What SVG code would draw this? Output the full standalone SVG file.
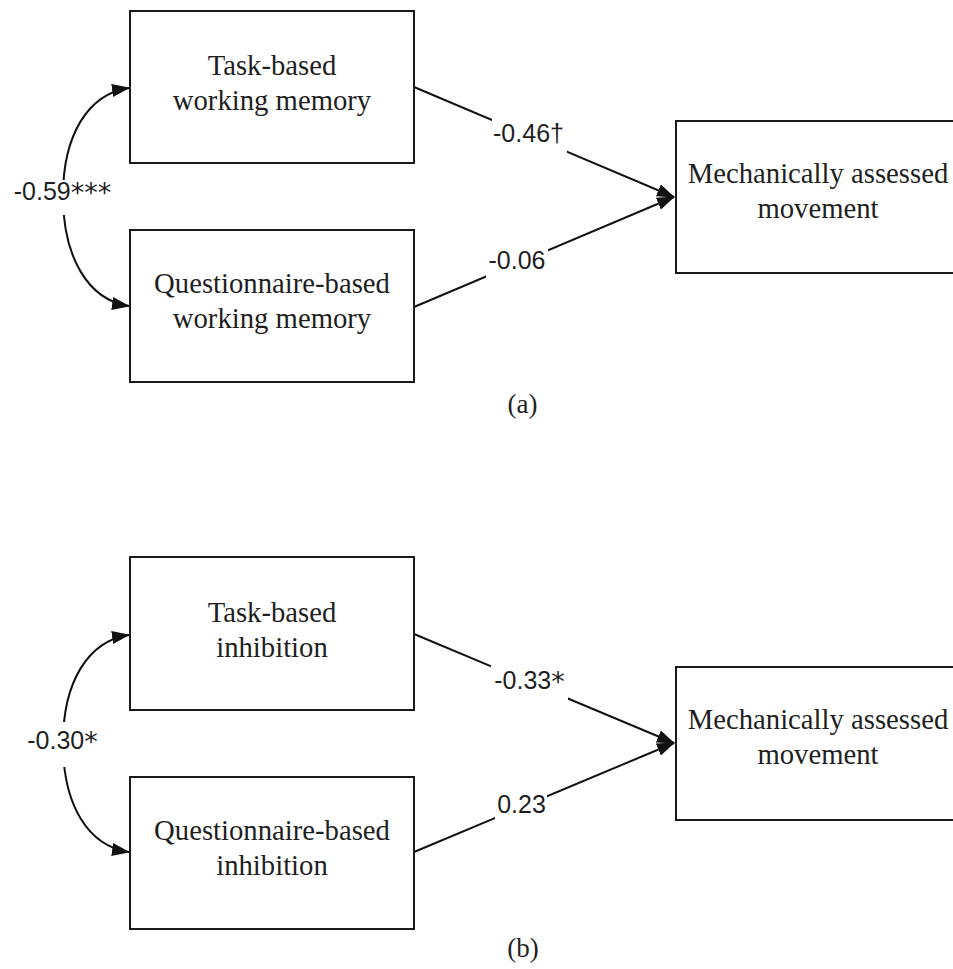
<svg xmlns="http://www.w3.org/2000/svg" width="953" height="969" viewBox="0 0 953 969">
  <style>
    .box { fill: #ffffff; stroke: #1a1a1a; stroke-width: 2; }
    .node-text { font-family: "Liberation Serif", "Times New Roman", serif; font-size: 28.7px; fill: #1f1f1f; text-anchor: middle; }
    .edge { fill: none; stroke: #111111; stroke-width: 2; }
    .edge-bg { fill: #ffffff; }
    .edge-text { font-family: "Liberation Sans", Arial, sans-serif; font-size: 25px; fill: #1f1f1f; text-anchor: middle; }
    .star { font-family: "DejaVu Sans", sans-serif; font-size: 27px; }
    .caption { font-family: "Liberation Serif", "Times New Roman", serif; font-size: 27px; fill: #1f1f1f; text-anchor: middle; }
  </style>
  <defs>
    <marker id="head" viewBox="0 0 18 13" refX="17" refY="6.5" markerWidth="18" markerHeight="13" markerUnits="userSpaceOnUse" orient="auto-start-reverse">
      <path d="M0,0 L18,6.5 L0,13 Z" fill="#111111"/>
    </marker>
  </defs>
  <rect width="953" height="969" fill="#ffffff"/>

  <!-- connectors -->
  <g id="connectors">
    <!-- panel a -->
    <path class="edge" d="M414,87 L674,197" marker-end="url(#head)"/>
    <path class="edge" d="M414,307 L674,197" marker-end="url(#head)"/>
    <path class="edge" d="M129,88 C88,94 63,135 63,196 C63,257 88,300 129,306" marker-start="url(#head)" marker-end="url(#head)"/>
    <!-- panel b -->
    <path class="edge" d="M414,634 L674,743" marker-end="url(#head)"/>
    <path class="edge" d="M414,852 L674,743" marker-end="url(#head)"/>
    <path class="edge" d="M129,635 C88,641 63,682 63,743 C63,805 88,846 129,852" marker-start="url(#head)" marker-end="url(#head)"/>

    <!-- coefficient labels -->
    <rect class="edge-bg" x="492" y="117" width="75" height="37"/>
    <text class="edge-text" x="528.5" y="142">-0.46†</text>
    <rect class="edge-bg" x="486" y="247" width="62" height="32"/>
    <text class="edge-text" x="517" y="269">-0.06</text>
    <rect class="edge-bg" x="6" y="180" width="114" height="35"/>
    <text class="edge-text" x="62.5" y="200">-0.59<tspan class="star" dy="2">***</tspan></text>

    <rect class="edge-bg" x="491" y="664" width="77" height="37"/>
    <text class="edge-text" x="529.5" y="689">-0.33<tspan class="star" dy="2">*</tspan></text>
    <rect class="edge-bg" x="495" y="794" width="52" height="28"/>
    <text class="edge-text" x="521.5" y="813">0.23</text>
    <rect class="edge-bg" x="20" y="722" width="86" height="45"/>
    <text class="edge-text" x="62.5" y="749">-0.30<tspan class="star" dy="2">*</tspan></text>
  </g>

  <!-- panel a nodes -->
  <g id="task-wm">
    <rect class="box" x="130" y="11" width="284" height="152"/>
    <text class="node-text" x="272" y="75">Task-based</text>
    <text class="node-text" x="272" y="110">working memory</text>
  </g>
  <g id="quest-wm">
    <rect class="box" x="130" y="230" width="284" height="152"/>
    <text class="node-text" x="272" y="293">Questionnaire-based</text>
    <text class="node-text" x="272" y="328">working memory</text>
  </g>
  <g id="movement-a">
    <rect class="box" x="676" y="121" width="290" height="152"/>
    <text class="node-text" x="818" y="183">Mechanically assessed</text>
    <text class="node-text" x="818" y="218">movement</text>
  </g>
  <text class="caption" x="522.5" y="413">(a)</text>

  <!-- panel b nodes -->
  <g id="task-inh">
    <rect class="box" x="130" y="557" width="284" height="153"/>
    <text class="node-text" x="272" y="622">Task-based</text>
    <text class="node-text" x="272" y="657">inhibition</text>
  </g>
  <g id="quest-inh">
    <rect class="box" x="130" y="777" width="284" height="152"/>
    <text class="node-text" x="272" y="840">Questionnaire-based</text>
    <text class="node-text" x="272" y="875">inhibition</text>
  </g>
  <g id="movement-b">
    <rect class="box" x="676" y="667" width="290" height="153"/>
    <text class="node-text" x="818" y="729">Mechanically assessed</text>
    <text class="node-text" x="818" y="764">movement</text>
  </g>
  <text class="caption" x="523" y="957">(b)</text>
</svg>
